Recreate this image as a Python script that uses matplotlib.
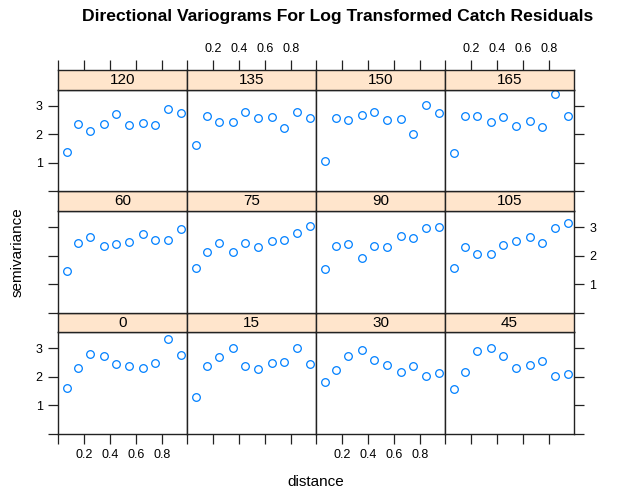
import numpy as np
import matplotlib.pyplot as plt

plt.rcParams['font.family'] = ['Liberation Sans', 'DejaVu Sans']

directions = [0, 15, 30, 45, 60, 75, 90, 105, 120, 135, 150, 165]
dist = [0.072, 0.150, 0.247, 0.350, 0.446, 0.545, 0.650, 0.746, 0.846, 0.945]

gamma_0 = [1.60, 2.33, 2.81, 2.75, 2.47, 2.40, 2.32, 2.49, 3.33, 2.77]
gamma_15 = [1.30, 2.39, 2.71, 3.01, 2.40, 2.29, 2.49, 2.52, 3.02, 2.46]
gamma_30 = [1.83, 2.23, 2.72, 2.96, 2.60, 2.43, 2.19, 2.37, 2.04, 2.13]
gamma_45 = [1.56, 2.16, 2.92, 3.01, 2.72, 2.30, 2.43, 2.57, 2.05, 2.09]
gamma_60 = [1.47, 2.46, 2.65, 2.33, 2.42, 2.47, 2.76, 2.56, 2.55, 2.93]
gamma_75 = [1.55, 2.12, 2.46, 2.12, 2.44, 2.32, 2.53, 2.55, 2.79, 3.05]
gamma_90 = [1.52, 2.33, 2.40, 1.92, 2.35, 2.32, 2.68, 2.61, 2.98, 3.00]
gamma_105 = [1.56, 2.32, 2.05, 2.05, 2.38, 2.51, 2.64, 2.46, 2.96, 3.14]
gamma_120 = [1.39, 2.35, 2.10, 2.36, 2.70, 2.31, 2.39, 2.31, 2.89, 2.74]
gamma_135 = [1.62, 2.64, 2.42, 2.42, 2.80, 2.57, 2.61, 2.23, 2.80, 2.57]
gamma_150 = [1.08, 2.59, 2.49, 2.67, 2.80, 2.49, 2.53, 2.02, 3.02, 2.75]
gamma_165 = [1.33, 2.66, 2.66, 2.44, 2.60, 2.29, 2.46, 2.24, 3.43, 2.66]

gammas = [gamma_0, gamma_15, gamma_30, gamma_45, gamma_60, gamma_75,
          gamma_90, gamma_105, gamma_120, gamma_135, gamma_150, gamma_165]

xticks = [0, 0.2, 0.4, 0.6, 0.8]
xlabels = ["", "0.2", "0.4", "0.6", "0.8"]
yticks = [0, 1, 2, 3]
ylabels = ["", "1", "2", "3"]

W, H = 620, 503
fig = plt.figure(figsize=(W / 100, H / 100), dpi=100)

left, right = 58, 574
top = 70
row_h = 121.3
strip_h = 19.6
col_w = (right - left) / 4
line_col = "#222222"
tick_kw = dict(direction="out", length=7, width=0.9, color=line_col, labelsize=9, pad=4)

for i, (d, g) in enumerate(zip(directions, gammas)):
  row = 2 - i // 4   # 0 = top row
  col = i % 4
  x0 = left + col * col_w
  y_strip = top + row * row_h
  y_panel = y_strip + strip_h
  ph = row_h - strip_h

  ax = fig.add_axes([x0 / W, 1 - (y_panel + ph) / H, col_w / W, ph / H])
  ax.plot(dist, g, "o", mfc="none", mec="#0080ff", ms=5.5, mew=0.9)
  ax.set_xlim(0, 0.99)
  ax.set_ylim(0, 3.57)
  for s in ax.spines.values():
    s.set_color(line_col)
    s.set_linewidth(1.0)

  # lattice style alternating axes
  ax.set_xticks(xticks)
  ax.set_yticks(yticks)
  ax.tick_params(top=False, bottom=(row == 2),
                 left=(col == 0), right=(col == 3),
                 labeltop=False,
                 labelbottom=(row == 2 and col % 2 == 0),
                 labelleft=(col == 0 and row != 1),
                 labelright=(col == 3 and row == 1), **tick_kw)
  ax.set_xticklabels(xlabels)
  ax.set_yticklabels(ylabels)

  sax = fig.add_axes([x0 / W, 1 - (y_strip + strip_h) / H, col_w / W, strip_h / H])
  sax.set_facecolor("#ffe5cc")
  sax.set_xlim(0, 0.99)
  sax.set_yticks([])
  if row == 0:
    sax.set_xticks(xticks)
    sax.set_xticklabels(xlabels)
    sax.tick_params(axis="x", top=True, bottom=False, labelbottom=False,
                    labeltop=(col % 2 == 1), **tick_kw)
  else:
    sax.set_xticks([])
  for s in sax.spines.values():
    s.set_color(line_col)
    s.set_linewidth(1.0)
  sax.text(0.5, 0.48, str(d), ha="center", va="center", fontsize=11,
           transform=sax.transAxes)

fig.text(338 / W, 1 - 17 / H, "Directional Variograms For Log Transformed Catch Residuals",
         ha="center", va="center", fontsize=12.6, weight="bold")
fig.text(316 / W, 1 - 482 / H, "distance", ha="center", va="center", fontsize=11)
fig.text(18 / W, 1 - 252 / H, "semivariance", ha="center", va="center",
         fontsize=11, rotation=90)

fig.savefig("out.png", dpi=100)
